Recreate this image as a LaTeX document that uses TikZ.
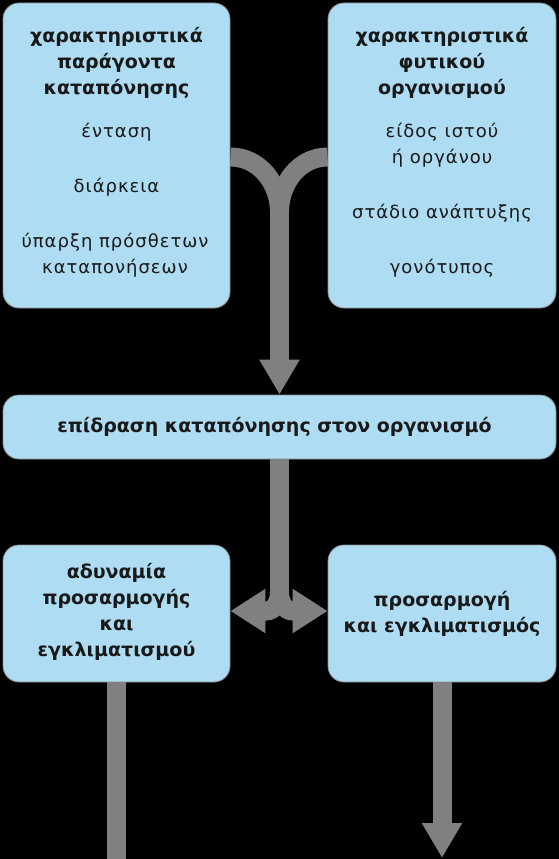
\documentclass[tikz,border=0pt]{standalone}
\usepackage{fontspec}
\setmainfont{DejaVu Sans}
\newfontfamily\araio[LetterSpace=5.5]{DejaVu Sans}
\usetikzlibrary{arrows.meta}

\definecolor{galazio}{RGB}{174,220,242}
\definecolor{gkri}{RGB}{128,128,128}
\definecolor{perigramma}{RGB}{140,140,140}

\tikzset{
  kouti/.style={draw=perigramma, line width=0.8pt, fill=galazio, rounded corners=16pt, inner sep=0pt},
  titlos/.style={font=\bfseries\fontsize{19}{26}\selectfont, align=center, text=black!90},
  keimeno/.style={font=\araio\fontsize{18}{26}\selectfont, align=center, text=black!90},
  paxu/.style={draw=gkri, line width=19pt},
  aixmi/.style={-{Triangle[width=38pt,length=35pt]}},
  diplh/.style={-{Triangle[width=42pt,length=35pt]}}
}

\begin{document}
\begin{tikzpicture}[x=1pt, y=-1pt]
  \fill[black] (0,0) rectangle (559,859);
  \useasboundingbox (0,0) rectangle (559,859);

  % Τα δύο πάνω κουτιά
  \node[kouti, minimum width=227pt, minimum height=305pt] (paragontes) at (116.5,155.5) {};
  \node[kouti, minimum width=228pt, minimum height=305pt] (organismos) at (442,155.5) {};
  \node[titlos] (tparagontes) at (116.5,63) {χαρακτηριστικά\\παράγοντα\\καταπόνησης};
  \node[keimeno] (entasi) at (116.5,132) {ένταση};
  \node[keimeno] (diarkeia) at (116.5,187) {διάρκεια};
  \node[keimeno] (yparxi) at (115,255) {ύπαρξη πρόσθετων\\καταπονήσεων};
  \node[titlos] (torganismos) at (442,63) {χαρακτηριστικά\\φυτικού\\οργανισμού};
  \node[keimeno] (istos) at (442,145) {είδος ιστού\\ή οργάνου};
  \node[keimeno] (stadio) at (442,213) {στάδιο ανάπτυξης};
  \node[keimeno] (genotypos) at (442,268) {γονότυπος};

  % Το μεσαίο κουτί
  \node[kouti, minimum width=553pt, minimum height=64pt] (epidrasi) at (279.5,427) {};
  \node[titlos] (tepidrasi) at ([xshift=-5pt]epidrasi.center) {επίδραση καταπόνησης στον οργανισμό};

  % Τα δύο κάτω κουτιά
  \node[kouti, minimum width=227pt, minimum height=137pt] (adynamia) at (116.5,613.5) {};
  \node[kouti, minimum width=228pt, minimum height=137pt] (prosarmogi) at (442,613.5) {};
  \node[titlos] (tadynamia) at ([yshift=2pt]adynamia.center) {αδυναμία\\προσαρμογής\\και\\εγκλιματισμού};
  \node[titlos] (tprosarmogi) at (prosarmogi) {προσαρμογή\\και εγκλιματισμός};

  % Βέλος σε σχήμα Y προς το μεσαίο κουτί
  \coordinate (enosi) at (279.5,212);
  \draw[paxu] (paragontes.east |- 0,157) to[out=0,in=90] (enosi);
  \draw[paxu] (organismos.west |- 0,157) to[out=180,in=90] (enosi);
  \draw[paxu, aixmi] (279.5,210) -- (epidrasi.north);

  % Διπλό βέλος προς τα κάτω κουτιά
  \coordinate (diklado) at (279.5,592);
  \draw[paxu] (epidrasi.south) -- (279.5,596);
  \draw[paxu, diplh] (diklado) to[out=-90,in=0] (266,611) -- (adynamia.east |- 0,611);
  \draw[paxu, diplh] (diklado) to[out=-90,in=180] (293,611) -- (prosarmogi.west |- 0,611);

  % Έξοδοι στο κάτω μέρος
  \coordinate (telos) at (116.5,859);
  \draw[paxu] (adynamia.south) -- (telos);
  \draw[paxu, aixmi] (prosarmogi.south) -- (prosarmogi.south |- 0,858);
\end{tikzpicture}
\end{document}
